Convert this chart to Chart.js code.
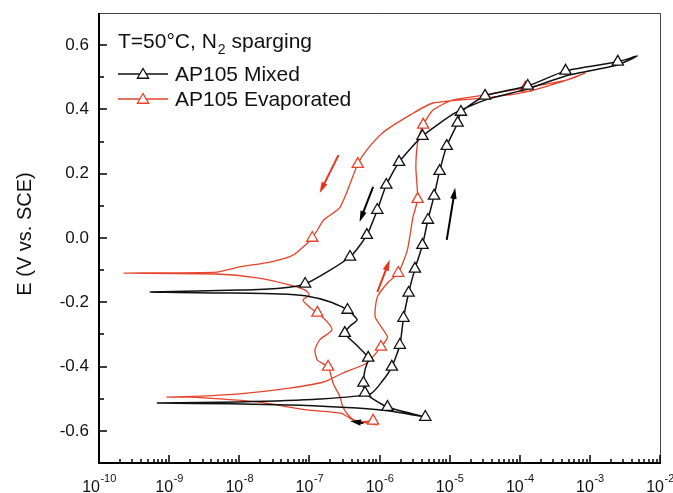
<!DOCTYPE html>
<html>
<head>
<meta charset="utf-8">
<title>AP105 cyclic polarization</title>
<script src="https://cdn.jsdelivr.net/npm/chart.js@4/dist/chart.umd.min.js"></script>
<style>
	html, body { margin: 0; padding: 0; background: #fff; }
	#wrap { width: 673px; height: 493px; }
</style>
</head>
<body>
<div id="wrap"><canvas id="polar" width="673" height="493"></canvas></div>
<script>
// AP105 Mixed: forward scan up to the vertex, then the reverse scan back down
const mixedI = [4.5e-6, 1.4e-6, 4.8e-7, 7.4e-8, 7.4e-9, 6.8e-10, 1.0e-8, 1.4e-7, 7.4e-7, 1.1e-6,
	1.5e-6, 1.95e-6, 2.2e-6, 2.6e-6, 3.2e-6, 4.1e-6, 4.9e-6, 6.0e-6, 7.2e-6, 9.1e-6,
	1.3e-5, 1.45e-5, 3.2e-5, 1.3e-4, 4.5e-4, 2.5e-3, 4.7e-3,
	2.45e-3, 4.5e-4, 1.3e-4, 3.2e-5, 1.2e-5, 4.1e-6, 1.9e-6, 1.25e-6, 9.3e-7, 6.6e-7,
	3.8e-7, 8.7e-8, 3.8e-8, 1.0e-8, 5.4e-10, 5.4e-9, 3.8e-8, 8.7e-8, 2.0e-7, 3.5e-7,
	4.8e-7, 3.8e-7, 3.2e-7, 4.7e-7, 6.9e-7, 6.2e-7, 5.9e-7, 6.2e-7, 1.3e-6, 4.5e-6]
const mixedE = [-0.557, -0.538, -0.529, -0.520, -0.516, -0.513, -0.510, -0.501, -0.485, -0.445,
	-0.401, -0.333, -0.249, -0.171, -0.096, -0.022, 0.056, 0.131, 0.208, 0.286,
	0.358, 0.392, 0.442, 0.473, 0.520, 0.548, 0.566,
	0.538, 0.504, 0.464, 0.429, 0.389, 0.317, 0.236, 0.165, 0.087, 0.009,
	-0.059, -0.143, -0.156, -0.162, -0.168, -0.171, -0.174, -0.180, -0.199, -0.224,
	-0.255, -0.274, -0.296, -0.333, -0.373, -0.411, -0.451, -0.482, -0.526, -0.557]
// points of the mixed curve that carry a triangle
const mixedMarks = [0, 10, 11, 12, 13, 14, 15, 16, 17, 18, 19, 20, 21, 22, 23, 24, 25,
	32, 33, 34, 35, 36, 37, 38, 46, 49, 51, 53, 54, 55]

// AP105 Evaporated
const evapI = [9.3e-7, 4.2e-7, 2.8e-7, 9.3e-8, 1.8e-8, 2.0e-9, 9.3e-10, 2.8e-9, 1.0e-8, 5.2e-8,
	1.6e-7, 3.0e-7, 6.6e-7, 1.05e-6, 1.3e-6, 8.7e-7, 9.3e-7, 1.3e-6, 1.85e-6, 2.5e-6,
	3.0e-6, 3.5e-6, 3.3e-6, 3.55e-6, 4.2e-6, 5.8e-6, 1.1e-5, 3.2e-5, 1.2e-4, 4.8e-4, 8.5e-4,
	3.8e-4, 1.2e-4, 3.2e-5, 5.8e-6, 2.75e-6, 1.1e-6, 6.6e-7, 4.9e-7, 2.75e-7, 1.6e-7,
	1.1e-7, 5.9e-8, 2.75e-8, 1.0e-8, 4.8e-9, 2.2e-10, 4.8e-9, 1.8e-8, 5.2e-8, 8.7e-8,
	1.0e-7, 8.1e-8, 1.0e-7, 1.3e-7, 1.8e-7, 2.1e-7, 1.4e-7, 1.2e-7, 1.3e-7, 1.85e-7,
	2.2e-7, 2.75e-7, 3.0e-7, 3.8e-7, 4.9e-7, 8.1e-7]
const evapE = [-0.582, -0.566, -0.545, -0.535, -0.510, -0.495, -0.495, -0.492, -0.485, -0.467,
	-0.448, -0.420, -0.389, -0.339, -0.308, -0.246, -0.184, -0.140, -0.109, -0.037,
	0.065, 0.121, 0.221, 0.305, 0.352, 0.398, 0.429, 0.445, 0.467, 0.492, 0.513,
	0.485, 0.454, 0.436, 0.420, 0.383, 0.327, 0.274, 0.230, 0.096, 0.056,
	0.000, -0.053, -0.075, -0.090, -0.106, -0.109, -0.112, -0.124, -0.146, -0.162,
	-0.177, -0.193, -0.215, -0.233, -0.261, -0.286, -0.317, -0.348, -0.380, -0.401,
	-0.454, -0.495, -0.526, -0.557, -0.572, -0.569]
const evapMarks = [13, 18, 21, 24, 28, 38, 41, 54, 60, 66]

// scan direction arrows: [tail current, tail E, head current, head E]
const redArrows = [[2.6e-7, 0.258, 1.4e-7, 0.140], [9.3e-7, -0.168, 1.4e-6, -0.068]]
const blackArrows = [[8.1e-7, 0.159, 5.2e-7, 0.050], [9.1e-6, -0.006, 1.2e-5, 0.156], [5.9e-7, -0.576, 3.8e-7, -0.569]]

// axes
const decades = [1e-10, 1e-9, 1e-8, 1e-7, 1e-6, 1e-5, 1e-4, 1e-3, 1e-2]
const decadeExp = ['-10', '-9', '-8', '-7', '-6', '-5', '-4', '-3', '-2']
const yMajor = [-0.6, -0.4, -0.2, 0.0, 0.2, 0.4, 0.6]
const yLabels = ['-0.6', '-0.4', '-0.2', '0.0', '0.2', '0.4', '0.6']
const yMinor = [-0.5, -0.3, -0.1, 0.1, 0.3, 0.5]

const BLACK = '#111'
const RED = '#e5432b'
const FONT = '"Liberation Sans", Arial, sans-serif'

const toPoints = (xs, ys) => xs.map((v, k) => ({ x: v, y: ys[k] }))

const drawTriangle = (ctx, x, y, r, color) => {
	ctx.beginPath()
	ctx.moveTo(x, y - r)
	ctx.lineTo(x + r * 0.866, y + r * 0.5)
	ctx.lineTo(x - r * 0.866, y + r * 0.5)
	ctx.closePath()
	ctx.fillStyle = '#fff'
	ctx.fill()
	ctx.strokeStyle = color
	ctx.lineWidth = 1.3
	ctx.stroke()
}

const drawArrow = (ctx, x0, y0, x1, y1, color) => {
	const ang = Math.atan2(y1 - y0, x1 - x0)
	const len = 11
	const half = 3.2
	ctx.strokeStyle = color
	ctx.fillStyle = color
	ctx.lineWidth = 2
	ctx.beginPath()
	ctx.moveTo(x0, y0)
	ctx.lineTo(x1 - Math.cos(ang) * len * 0.8, y1 - Math.sin(ang) * len * 0.8)
	ctx.stroke()
	ctx.beginPath()
	ctx.moveTo(x1, y1)
	ctx.lineTo(x1 - Math.cos(ang) * len - Math.sin(ang) * half, y1 - Math.sin(ang) * len + Math.cos(ang) * half)
	ctx.lineTo(x1 - Math.cos(ang) * len + Math.sin(ang) * half, y1 - Math.sin(ang) * len - Math.cos(ang) * half)
	ctx.closePath()
	ctx.fill()
}

// frame, inward ticks, tick labels and axis title
const axesPlugin = {
	id: 'axesPlugin',
	afterDraw(chart) {
		const { ctx, chartArea: a, scales: { x, y } } = chart
		ctx.save()
		ctx.strokeStyle = '#444'
		ctx.lineWidth = 1
		ctx.beginPath()
		ctx.moveTo(a.left, a.top + 0.5)
		ctx.lineTo(a.right + 0.5, a.top + 0.5)
		ctx.lineTo(a.right + 0.5, a.bottom)
		ctx.stroke()

		ctx.strokeStyle = '#000'
		ctx.lineWidth = 2
		ctx.beginPath()
		ctx.moveTo(a.left, a.top)
		ctx.lineTo(a.left, a.bottom)
		ctx.lineTo(a.right + 1, a.bottom)
		ctx.stroke()

		ctx.lineWidth = 1.5
		ctx.beginPath()
		decades.forEach((d, k) => {
			const px = Math.round(x.getPixelForValue(d))
			ctx.moveTo(px, a.bottom)
			ctx.lineTo(px, a.bottom - 8)
			if (k < decades.length - 1) {
				for (let m = 2; m <= 9; m++) {
					const mx = Math.round(x.getPixelForValue(m * d))
					ctx.moveTo(mx, a.bottom)
					ctx.lineTo(mx, a.bottom - 4)
				}
			}
		})
		yMajor.forEach(v => {
			const py = Math.round(y.getPixelForValue(v))
			ctx.moveTo(a.left, py)
			ctx.lineTo(a.left + 8, py)
		})
		yMinor.forEach(v => {
			const py = Math.round(y.getPixelForValue(v))
			ctx.moveTo(a.left, py)
			ctx.lineTo(a.left + 5, py)
		})
		ctx.stroke()

		// y tick labels
		ctx.fillStyle = '#111'
		ctx.font = '17px ' + FONT
		ctx.textAlign = 'right'
		ctx.textBaseline = 'middle'
		yMajor.forEach((v, k) => {
			ctx.fillText(yLabels[k], a.left - 10, y.getPixelForValue(v))
		})

		// x tick labels as 10 with a raised exponent
		ctx.textAlign = 'left'
		ctx.textBaseline = 'alphabetic'
		decades.forEach((d, k) => {
			ctx.font = '16px ' + FONT
			const wBase = ctx.measureText('10').width
			ctx.font = '11px ' + FONT
			const wExp = ctx.measureText(decadeExp[k]).width
			const left = x.getPixelForValue(d) - (wBase + wExp) / 2
			ctx.font = '16px ' + FONT
			ctx.fillText('10', left, a.bottom + 29)
			ctx.font = '11px ' + FONT
			ctx.fillText(decadeExp[k], left + wBase + 0.5, a.bottom + 19)
		})

		// y axis title
		ctx.save()
		ctx.translate(25, 234)
		ctx.rotate(-Math.PI / 2)
		ctx.font = '20px ' + FONT
		ctx.textAlign = 'center'
		ctx.textBaseline = 'middle'
		ctx.fillText('E (V vs. SCE)', 0, 0)
		ctx.restore()
		ctx.restore()
	}
}

// direction arrows placed on the data scales
const arrowPlugin = {
	id: 'arrowPlugin',
	afterDatasetsDraw(chart) {
		const { ctx, scales: { x, y } } = chart
		ctx.save()
		redArrows.forEach(r => drawArrow(ctx, x.getPixelForValue(r[0]), y.getPixelForValue(r[1]), x.getPixelForValue(r[2]), y.getPixelForValue(r[3]), '#e8321c'))
		blackArrows.forEach(r => drawArrow(ctx, x.getPixelForValue(r[0]), y.getPixelForValue(r[1]), x.getPixelForValue(r[2]), y.getPixelForValue(r[3]), '#000'))
		ctx.restore()
	}
}

// legend box in the upper left of the plot
const legendPlugin = {
	id: 'legendPlugin',
	afterDraw(chart) {
		const { ctx, chartArea: a } = chart
		const lx = a.left + 19
		ctx.save()
		ctx.fillStyle = '#111'
		ctx.textBaseline = 'middle'
		ctx.textAlign = 'left'
		ctx.font = '21px ' + FONT
		const head = 'T=50\u00b0C, N'
		ctx.fillText(head, lx, 42)
		let w = ctx.measureText(head).width
		ctx.font = '14px ' + FONT
		ctx.fillText('2', lx + w + 1, 50)
		w += ctx.measureText('2').width + 1
		ctx.font = '21px ' + FONT
		ctx.fillText(' sparging', lx + w, 42)

		const rows = [['AP105 Mixed', BLACK, 74], ['AP105 Evaporated', RED, 99]]
		rows.forEach(r => {
			ctx.strokeStyle = r[1]
			ctx.lineWidth = 1.5
			ctx.beginPath()
			ctx.moveTo(lx, r[2])
			ctx.lineTo(lx + 50, r[2])
			ctx.stroke()
			drawTriangle(ctx, lx + 25, r[2] + 1, 6.5, r[1])
			ctx.fillStyle = '#111'
			ctx.font = '21px ' + FONT
			ctx.fillText(r[0], lx + 57, r[2] + 1)
		})
		ctx.restore()
	}
}

const markRadius = marks => c => (marks.includes(c.dataIndex) ? 6.5 : 0)

new Chart(document.getElementById('polar'), {
	type: 'scatter',
	data: {
		datasets: [
			{
				label: 'AP105 Mixed',
				data: toPoints(mixedI, mixedE),
				showLine: true,
				tension: 0.2,
				borderColor: BLACK,
				borderWidth: 1.5,
				pointStyle: 'triangle',
				pointRadius: markRadius(mixedMarks),
				pointBackgroundColor: '#fff',
				pointBorderColor: BLACK,
				pointBorderWidth: 1.3
			},
			{
				label: 'AP105 Evaporated',
				data: toPoints(evapI, evapE),
				showLine: true,
				tension: 0.2,
				borderColor: RED,
				borderWidth: 1.3,
				pointStyle: 'triangle',
				pointRadius: markRadius(evapMarks),
				pointBackgroundColor: '#fff',
				pointBorderColor: RED,
				pointBorderWidth: 1.3
			}
		]
	},
	options: {
		responsive: false,
		animation: false,
		layout: { padding: { left: 99, right: 13, top: 13, bottom: 30 } },
		scales: {
			x: { type: 'logarithmic', min: 1e-10, max: 1e-2, display: false },
			y: { type: 'linear', min: -0.7, max: 0.7, display: false }
		},
		plugins: {
			legend: { display: false },
			tooltip: { enabled: false }
		}
	},
	plugins: [axesPlugin, arrowPlugin, legendPlugin]
})
</script>
</body>
</html>
